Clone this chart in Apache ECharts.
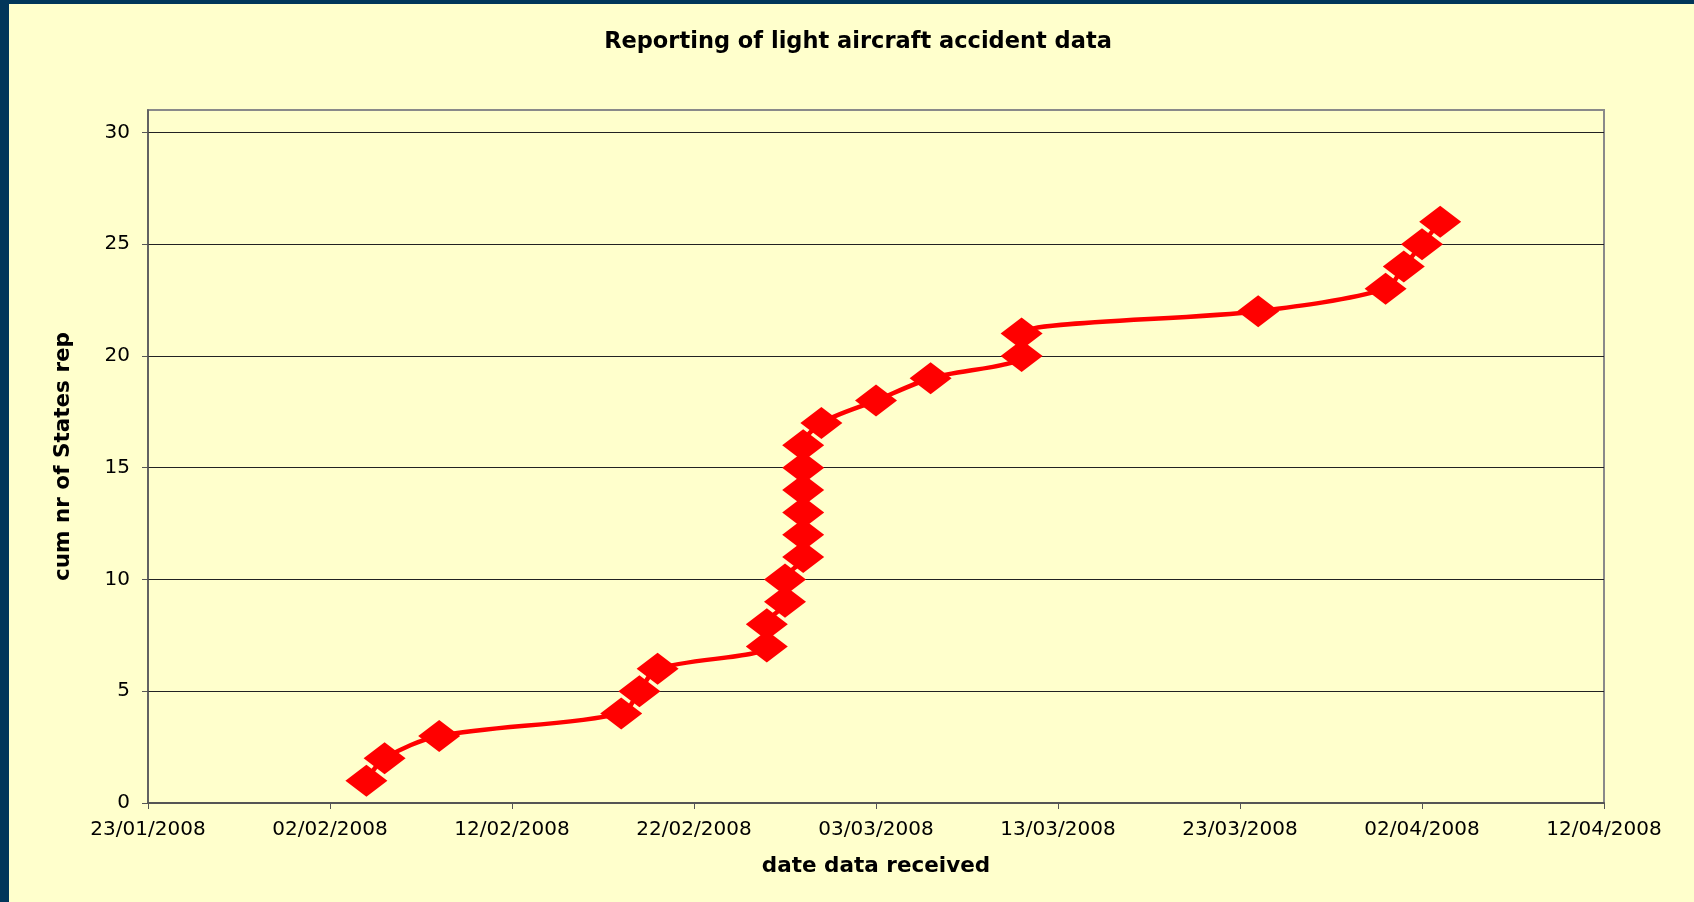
<!DOCTYPE html>
<html>
<head>
<meta charset="utf-8">
<script src="https://cdn.jsdelivr.net/npm/echarts@6/dist/echarts.min.js"></script>
<style>
html,body{margin:0;padding:0;background:#FFFFCC;}
#chart{width:1694px;height:902px;}
</style>
</head>
<body>
<div id="chart"></div>
<script>
// ---- data ----
const startDate = '2008-01-23';
const endDate = '2008-04-12';
const dateReceived = [
  '2008-02-04','2008-02-05','2008-02-08','2008-02-18','2008-02-19','2008-02-20',
  '2008-02-26','2008-02-26','2008-02-27','2008-02-27',
  '2008-02-28','2008-02-28','2008-02-28','2008-02-28','2008-02-28','2008-02-28',
  '2008-02-29','2008-03-03','2008-03-06','2008-03-11','2008-03-11',
  '2008-03-24','2008-03-31','2008-04-01','2008-04-02','2008-04-03'
];
const cumStates = [1,2,3,4,5,6,7,8,9,10,11,12,13,14,15,16,17,18,19,20,21,22,23,24,25,26];
const yTicks = [0,5,10,15,20,25,30];

const DAY = 86400000;
function toUTC(s){const p=s.split('-');return Date.UTC(+p[0],+p[1]-1,+p[2]);}
const t0 = toUTC(startDate);
const span = Math.round((toUTC(endDate)-t0)/DAY);
function dayLabel(v){
  const d = new Date(t0 + v*DAY);
  const dd = String(d.getUTCDate()).padStart(2,'0');
  const mm = String(d.getUTCMonth()+1).padStart(2,'0');
  return dd+'/'+mm+'/'+d.getUTCFullYear();
}
const seriesData = dateReceived.map((s,i)=>[Math.round((toUTC(s)-t0)/DAY), cumStates[i]]);

const chart = echarts.init(document.getElementById('chart'));
const font = 'DejaVu Sans';
chart.setOption({
  backgroundColor:'#FFFFCC',
  animation:false,
  graphic:[
    {type:'rect', shape:{x:0,y:0,width:9,height:902}, style:{fill:'#01365A'}, z:100},
    {type:'rect', shape:{x:0,y:0,width:1694,height:4}, style:{fill:'#01365A'}, z:100}
  ],
  title:{
    text:'Reporting of light aircraft accident data',
    left:853, top:26, textAlign:'center',
    textStyle:{fontFamily:font, fontWeight:'bold', fontSize:22.5, color:'#000'}
  },
  grid:{left:148, right:90, top:110, bottom:99, show:true, borderColor:'#8a8a8a', borderWidth:2, backgroundColor:'transparent'},
  xAxis:{
    type:'value', min:0, max:span, interval:10,
    name:'date data received', nameLocation:'middle', nameGap:52,
    nameTextStyle:{fontFamily:font, fontWeight:'bold', fontSize:21.5, color:'#000'},
    axisLine:{show:true, lineStyle:{color:'#555', width:2}},
    axisTick:{show:true, inside:false, length:6, lineStyle:{color:'#555', width:1}},
    axisLabel:{margin:17, fontFamily:font, fontSize:20, color:'#000', formatter:dayLabel, showMinLabel:true, showMaxLabel:true},
    splitLine:{show:false}
  },
  yAxis:{
    type:'value', min:0, max:31, interval:5,
    name:'cum nr of States rep', nameLocation:'middle', nameGap:74, nameRotate:90,
    nameTextStyle:{fontFamily:font, fontWeight:'bold', fontSize:21.5, color:'#000'},
    axisLine:{show:true, lineStyle:{color:'#555', width:1.5}},
    axisTick:{show:true, inside:false, length:6, lineStyle:{color:'#555', width:1}, customValues:yTicks},
    axisLabel:{margin:18, fontFamily:font, fontSize:20, color:'#000', customValues:yTicks},
    splitLine:{show:true, lineStyle:{color:'#222', width:1}}
  },
  series:[{
    type:'line',
    data:seriesData,
    smooth:0.3,
    symbol:'diamond',
    symbolSize:[42,32],
    itemStyle:{color:'#FF0000'},
    lineStyle:{color:'#FF0000', width:4.5},
    emphasis:{disabled:true}
  }]
});
</script>
</body>
</html>
